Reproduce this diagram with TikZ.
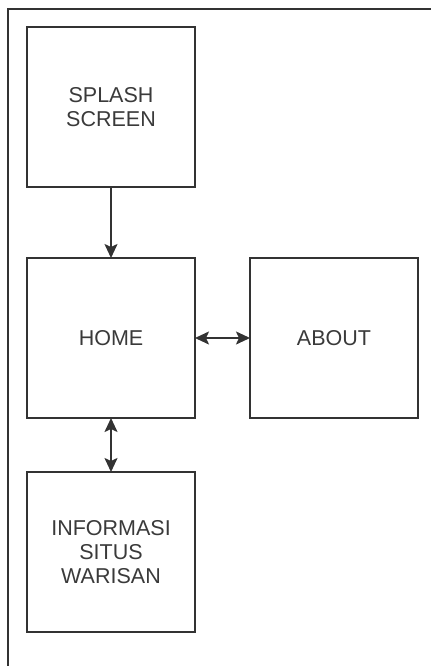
\documentclass[tikz,border=0pt]{standalone}
\usepackage{fontspec}
\setmainfont{Liberation Sans}
\usepackage{xcolor}
\usepackage{tikz}
\usetikzlibrary{arrows.meta}
\usetikzlibrary{positioning}
\definecolor{linegray}{HTML}{333333}
\definecolor{textgray}{HTML}{3A3A3A}
\tikzset{
    screen/.style = {rectangle, draw=linegray, line width=1.8pt, minimum width=168pt, minimum height=160pt,
        align=center, inner sep=0pt, outer sep=0pt, text=textgray, font=\fontsize{21.5}{24}\selectfont},
    link/.style = {draw=linegray, line width=1.8pt, -{Stealth[length=14pt,width=13pt,inset=3pt]}},
    biglink/.style = {link, {Stealth[length=14pt,width=13pt,inset=3pt]}-{Stealth[length=14pt,width=13pt,inset=3pt]}}
}
\begin{document}
\begin{tikzpicture}[x=1pt, y=-1pt]
    \useasboundingbox (0,0) rectangle (431,666);

    % frame
    \coordinate (fbot) at (8,666);
    \coordinate (fcorner) at (8,9);
    \coordinate (fright) at (431,9);
    \draw [draw=linegray, line width=1.8pt] (fbot) -- (fcorner) -- (fright);

    % screens
    \node [screen] (splash) at (111,107) {SPLASH\\SCREEN};
    \node [screen, below=71pt of splash] (home) {HOME};
    \node [screen, right=55pt of home] (about) {ABOUT};
    \node [screen, below=54pt of home] (info) {INFORMASI\\SITUS\\WARISAN};

    % links
    \draw [link] (splash) -- (home);
    \draw [biglink] (home) -- (about);
    \draw [biglink] (home) -- (info);
\end{tikzpicture}
\end{document}
